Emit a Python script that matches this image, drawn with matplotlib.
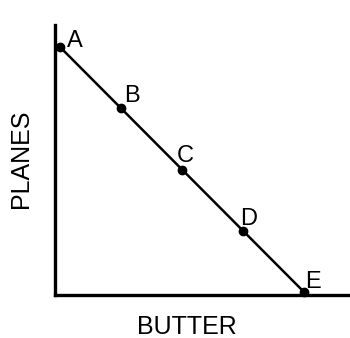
import matplotlib
matplotlib.use("Agg")
import matplotlib.pyplot as plt

# production possibilities points
labels = ["A", "B", "C", "D", "E"]
butter = [0, 1, 2, 3, 4]
planes = [4, 3, 2, 1, 0]
# label offsets in pixels (dx, dy)
offsets = [(7, 0), (3, 6), (-5, 7), (-3, 6), (1, 4)]

plt.rcParams['font.family'] = ['Liberation Sans', 'DejaVu Sans']

W, H = 350, 338
fig = plt.figure(figsize=(W / 100, H / 100), dpi=100)
ax = fig.add_axes([55 / W, (H - 295) / H, (350 - 55) / W, (295 - 25) / H])

ax.plot(butter, planes, color="black", lw=1.8, marker="o", ms=6, clip_on=False, zorder=3)
for lab, x, y, off in zip(labels, butter, planes, offsets):
    ax.annotate(lab, (x, y), xytext=off, textcoords="offset pixels",
                fontsize=17, ha="left", va="baseline")

ax.set_xlim(-5 / 61, 290 / 61)
ax.set_ylim(-3 / 61.25, 267 / 61.25)
ax.spines["top"].set_visible(False)
ax.spines["right"].set_visible(False)
ax.spines["left"].set_linewidth(2.4)
ax.spines["bottom"].set_linewidth(2.4)
ax.set_xticks([])
ax.set_yticks([])

fig.text(21 / W, 1 - 159 / H, "PLANES", rotation=90, fontsize=18, ha="center", va="center")
fig.text(187 / W, 1 - 327 / H, "BUTTER", fontsize=18, ha="center", va="center")

fig.savefig("out.png", dpi=100)
